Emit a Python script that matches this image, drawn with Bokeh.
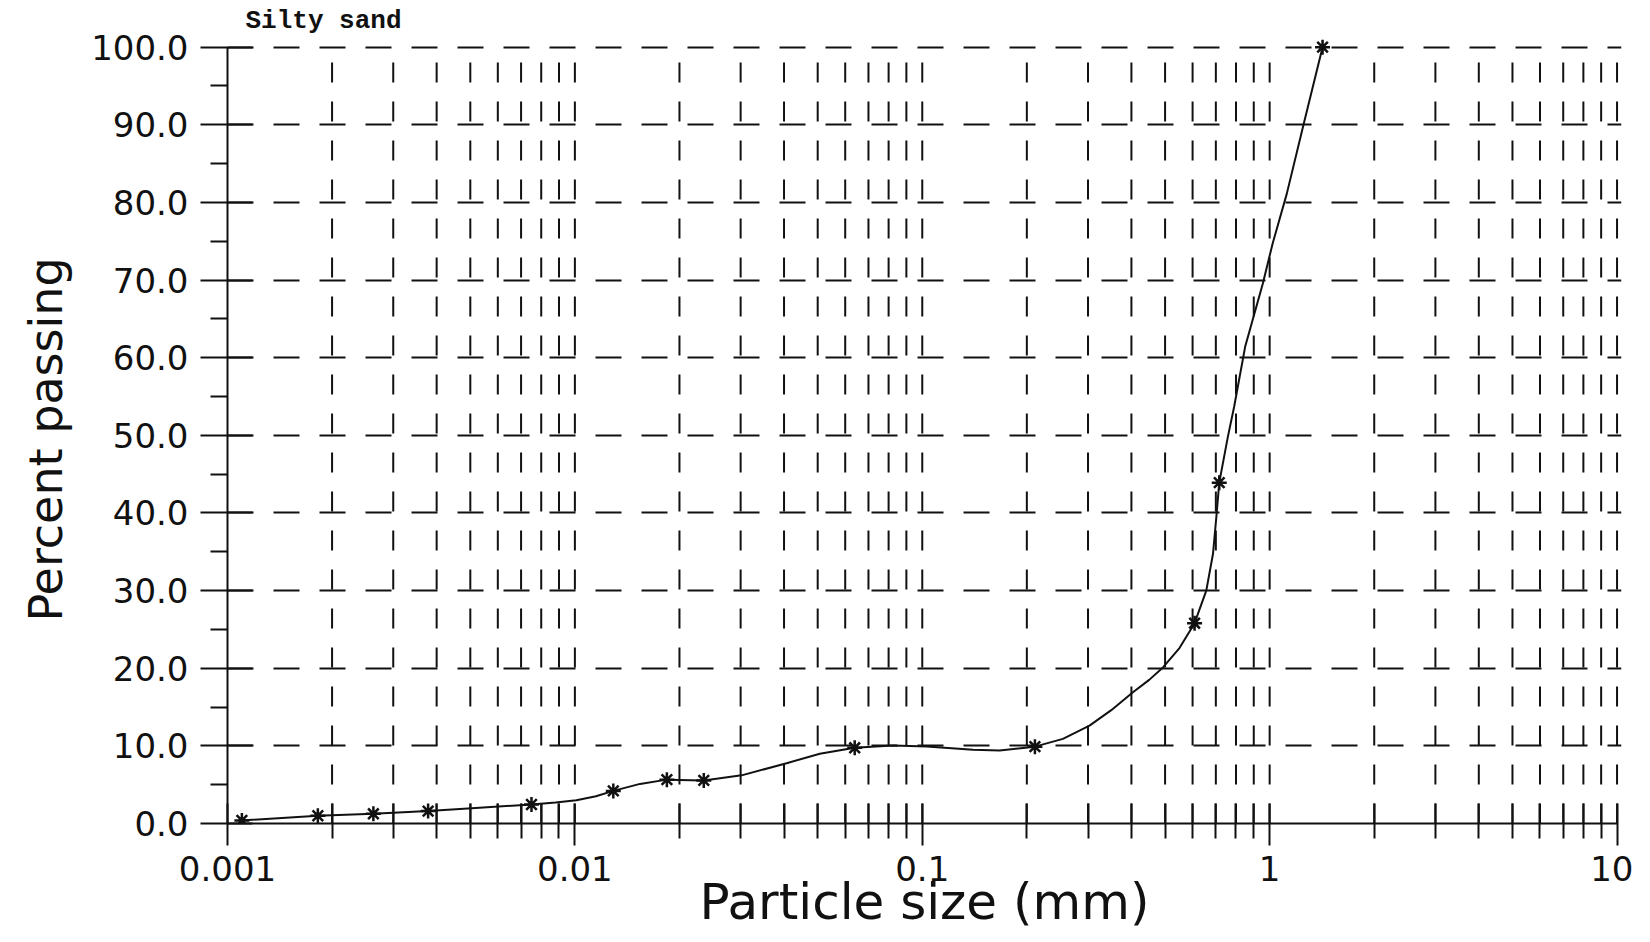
import math
from bokeh.plotting import figure
from bokeh.models import FixedTicker, CustomJSTickFormatter, Range1d, Title
from bokeh.embed import file_html
from bokeh.resources import INLINE

# ---------------- data ----------------
title_text = "Silty sand"
x_label_text = "Particle size (mm)"
y_label_text = "Percent passing"

# measured points (asterisk markers)
sizes = [0.0011, 0.00182, 0.00263, 0.00378, 0.0075, 0.0129, 0.0184, 0.0235,
         0.0639, 0.211, 0.608, 0.716, 1.42]
passing = [0.4, 1.0, 1.25, 1.6, 2.45, 4.2, 5.65, 5.55,
           9.75, 9.9, 25.8, 43.9, 100.0]

# fitted grading curve, as traced on the reference
curve_sizes = [0.0011, 0.00182, 0.00263, 0.00378, 0.00505, 0.0075, 0.0088, 0.0101,
               0.0115, 0.0129, 0.0154, 0.0184, 0.0235, 0.0302, 0.0407, 0.0507,
               0.0639, 0.0824, 0.103, 0.140, 0.167, 0.211, 0.254, 0.303, 0.35,
               0.404, 0.45, 0.493, 0.55, 0.608, 0.657, 0.687, 0.703, 0.716,
               0.758, 0.79, 0.85, 0.955, 1.02, 1.12, 1.25, 1.42]
curve_passing = [0.4, 1.0, 1.25, 1.6, 1.98, 2.45, 2.7, 3.0,
                 3.5, 4.2, 5.1, 5.65, 5.55, 6.2, 7.77, 8.98,
                 9.75, 10.05, 9.92, 9.5, 9.41, 9.9, 10.9, 12.6, 14.6,
                 16.9, 18.5, 20.1, 22.6, 25.8, 30.0, 34.75, 39.7, 43.9,
                 49.8, 53.65, 61.4, 69.5, 74.7, 81.1, 89.9, 100.0]

x_major_ticks = [0.001, 0.01, 0.1, 1, 10]
x_tick_labels = ["0.001", "0.01", "0.1", "1", "10"]
x_minor_multipliers = [2, 3, 4, 5, 6, 7, 8, 9]
y_major_ticks = [0, 10, 20, 30, 40, 50, 60, 70, 80, 90, 100]
y_tick_labels = ["0.0", "10.0", "20.0", "30.0", "40.0", "50.0",
                 "60.0", "70.0", "80.0", "90.0", "100.0"]
y_minor_ticks = [5, 15, 25, 35, 45, 55, 65, 75, 85, 95]

# ---------------- figure ----------------
x_minor_ticks = [m * d for d in x_major_ticks[:-1] for m in x_minor_multipliers]
grid_x = x_minor_ticks + x_major_ticks[1:]

p = figure(x_axis_type="log",
           x_range=Range1d(0.001, 10.3), y_range=Range1d(0, 101.5),
           frame_width=1394, frame_height=788,
           min_border_left=227, min_border_right=12,
           min_border_top=35, min_border_bottom=119,
           title=title_text,
           output_backend="svg", toolbar_location=None)
p.outline_line_color = None
p.background_fill_color = "white"
p.border_fill_color = "white"

INK = "#111111"

p.title.text_font = "Liberation Mono"
p.title.text_font_style = "bold"
p.title.text_font_size = "26px"
p.title.text_color = INK
p.title.align = "left"
p.title.offset = 18
p.title.standoff = 0

# x axis
p.xaxis.ticker = FixedTicker(ticks=x_major_ticks, minor_ticks=x_minor_ticks)
p.xaxis.formatter = CustomJSTickFormatter(
    args=dict(majors=x_major_ticks, labs=x_tick_labels),
    code="""
    let best = 0, bd = Infinity;
    for (let i = 0; i < majors.length; i++) {
        const d = Math.abs(Math.log10(tick) - Math.log10(majors[i]));
        if (d < bd) { bd = d; best = i; }
    }
    return labs[best];
""")
p.xaxis.bounds = (x_major_ticks[0], x_major_ticks[-1])
p.xaxis.major_tick_in = 20
p.xaxis.major_tick_out = 22
p.xaxis.minor_tick_in = 20
p.xaxis.minor_tick_out = 15
p.xaxis.major_label_standoff = 10
p.xaxis.axis_label = x_label_text
p.xaxis.axis_label_standoff = -11
p.xaxis.axis_label_text_font_size = "50px"

# y axis
p.yaxis.ticker = FixedTicker(ticks=y_major_ticks, minor_ticks=y_minor_ticks)
p.yaxis.formatter = CustomJSTickFormatter(
    args=dict(majors=y_major_ticks, labs=y_tick_labels),
    code="""
    let best = 0, bd = Infinity;
    for (let i = 0; i < majors.length; i++) {
        const d = Math.abs(tick - majors[i]);
        if (d < bd) { bd = d; best = i; }
    }
    return labs[best];
""")
p.yaxis.bounds = (y_major_ticks[0], y_major_ticks[-1])
p.yaxis.major_tick_in = 25
p.yaxis.major_tick_out = 27
p.yaxis.minor_tick_in = 0
p.yaxis.minor_tick_out = 17
p.yaxis.major_label_standoff = 12

for ax in (p.xaxis, p.yaxis):
    ax.axis_line_width = 2
    ax.axis_line_color = INK
    ax.major_tick_line_width = 2
    ax.major_tick_line_color = INK
    ax.minor_tick_line_width = 2
    ax.minor_tick_line_color = INK
    ax.major_label_text_font = "DejaVu Sans"
    ax.major_label_text_font_size = "34px"
    ax.major_label_text_color = INK
    ax.axis_label_text_font = "DejaVu Sans"
    ax.axis_label_text_font_style = "normal"
    ax.axis_label_text_color = INK

# y axis title placed in the left panel (lets it sit where the reference has it)
p.add_layout(Title(text=y_label_text, align="left", offset=202,
                   standoff=31, text_font="DejaVu Sans",
                   text_font_size="46px", text_font_style="normal",
                   text_color=INK), "left")

# grids
p.xgrid.grid_line_color = None
p.ygrid.grid_line_color = INK
p.ygrid.grid_line_width = 2
p.ygrid.grid_line_dash = "26 20"
p.ygrid.grid_line_alpha = 1.0

p.segment(x0=grid_x, y0=[y_major_ticks[0]] * len(grid_x),
          x1=grid_x, y1=[y_major_ticks[-1]] * len(grid_x),
          line_color=INK, line_width=2, line_dash="20 19")

# curve and points
p.line(curve_sizes, curve_passing, line_color=INK, line_width=2)
p.scatter(sizes, passing, marker="asterisk", size=15, line_color=INK, line_width=2.5)

open("out.html", "w").write(file_html(p, INLINE))
